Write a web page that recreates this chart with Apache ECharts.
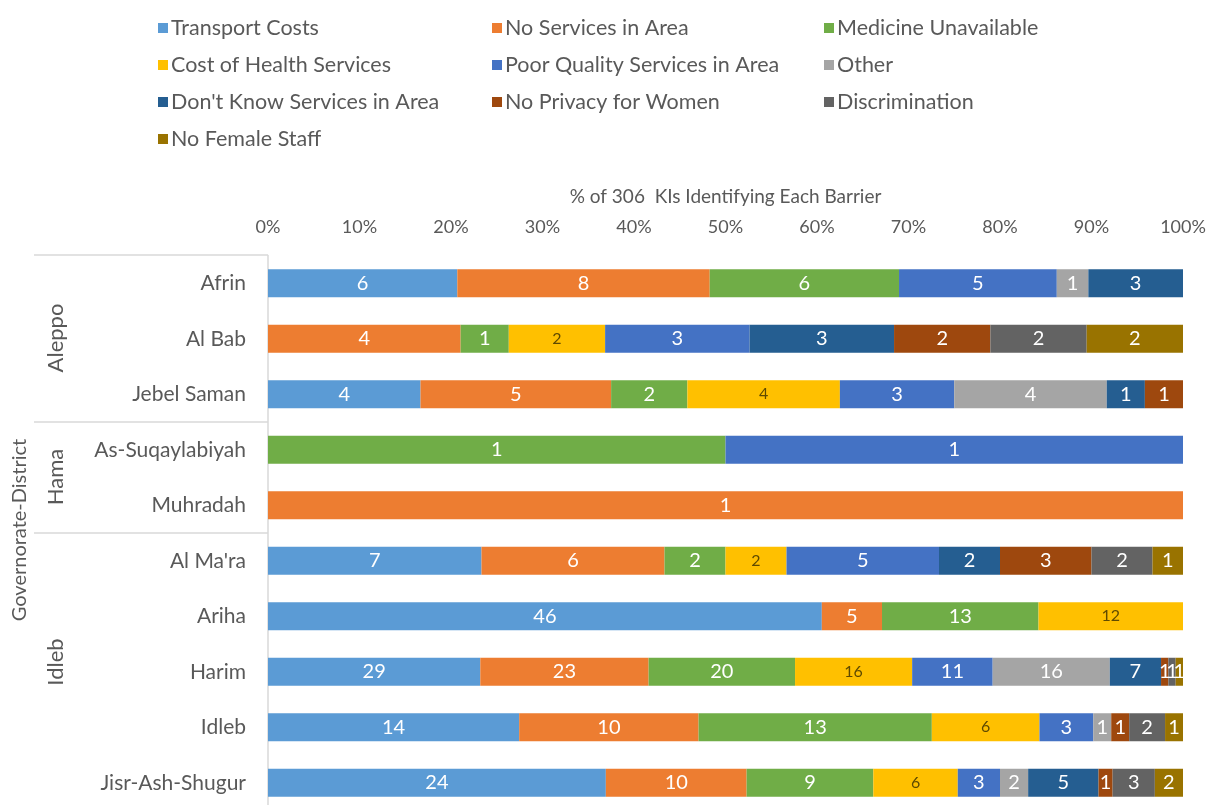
<!DOCTYPE html>
<html lang="en" style="height: 100%">
<head>
    <meta charset="UTF-8">
    <script src="https://cdn.jsdelivr.net/npm/echarts@6/dist/echarts.min.js"></script>
    <title>Barriers to health services</title>
</head>
<body style="height: 100%; margin: 0; background: #fff">
<div id="main" style="width: 1211px; height: 805px"></div>
<script>
    // districts, top to bottom
    var districts = ['Afrin', 'Al Bab', 'Jebel Saman', 'As-Suqaylabiyah', 'Muhradah',
        "Al Ma'ra", 'Ariha', 'Harim', 'Idleb', 'Jisr-Ash-Shugur'];

    var barriers = ['Transport Costs', 'No Services in Area', 'Medicine Unavailable',
        'Cost of Health Services', 'Poor Quality Services in Area', 'Other',
        "Don't Know Services in Area", 'No Privacy for Women', 'Discrimination', 'No Female Staff'];

    var colors = ['#5B9BD5', '#ED7D31', '#70AD47', '#FFC000', '#4472C4', '#A5A5A5',
        '#255E91', '#9E480E', '#636363', '#997300'];

    // counts of KIs per barrier, one array per barrier, same order as districts
    var transportCosts = [6, 0, 4, 0, 0, 7, 46, 29, 14, 24];
    var noServices = [8, 4, 5, 0, 1, 6, 5, 23, 10, 10];
    var medicineUnavailable = [6, 1, 2, 1, 0, 2, 13, 20, 13, 9];
    var costHealth = [0, 2, 4, 0, 0, 2, 12, 16, 6, 6];
    var poorQuality = [5, 3, 3, 1, 0, 5, 0, 11, 3, 3];
    var other = [1, 0, 4, 0, 0, 0, 0, 16, 1, 2];
    var dontKnow = [3, 3, 1, 0, 0, 2, 0, 7, 0, 5];
    var noPrivacy = [0, 2, 1, 0, 0, 3, 0, 1, 1, 1];
    var discrimination = [0, 2, 0, 0, 0, 2, 0, 1, 2, 3];
    var noFemaleStaff = [0, 2, 0, 0, 0, 1, 0, 1, 1, 2];

    var counts = [transportCosts, noServices, medicineUnavailable, costHealth, poorQuality,
        other, dontKnow, noPrivacy, discrimination, noFemaleStaff];

    var xTicks = [0, 10, 20, 30, 40, 50, 60, 70, 80, 90, 100];

    // totals per district, for the 100% stack
    var totals = districts.map(function (d, i) {
        var s = 0;
        counts.forEach(function (arr) { s += arr[i]; });
        return s;
    });

    var font = 'Lato, "Open Sans", sans-serif';
    var grey = '#595959';

    var series = barriers.map(function (name, k) {
        return {
            name: name,
            type: 'bar',
            stack: 'all',
            barWidth: 28,
            itemStyle: {color: colors[k]},
            label: {
                show: true,
                position: 'inside',
                fontFamily: font,
                fontSize: k === 3 ? 16 : 20,
                color: k === 3 ? '#5f4a00' : '#ffffff',
                formatter: function (p) { return p.data.count; }
            },
            data: counts[k].map(function (c, i) {
                if (!c) return {value: null, count: ''};
                return {value: c / totals[i] * 100, count: c};
            })
        };
    });

    function legendCol(left, names) {
        return {
            orient: 'vertical',
            left: left,
            top: 12,
            icon: 'rect',
            itemWidth: 10,
            itemHeight: 10,
            itemGap: 15,
            selectedMode: false,
            textStyle: {fontFamily: font, fontSize: 21.5, color: grey, lineHeight: 22, padding: [0, 0, 0, -2]},
            data: names
        };
    }

    var sepStyle = {stroke: '#d9d9d9', lineWidth: 1.5};

    function groupText(x, y, text, size) {
        return {
            type: 'text',
            x: x,
            y: y,
            rotation: Math.PI / 2,
            style: {
                text: text,
                fontFamily: font,
                fontSize: size,
                fill: grey,
                align: 'center',
                verticalAlign: 'middle'
            }
        };
    }

    var option = {
        animation: false,
        legend: [
            legendCol(153, [barriers[0], barriers[3], barriers[6], barriers[9]]),
            legendCol(487, [barriers[1], barriers[4], barriers[7]]),
            legendCol(819, [barriers[2], barriers[5], barriers[8]])
        ],
        grid: {left: 268, right: 28, top: 255.5, height: 555, outerBoundsMode: 'none'},
        xAxis: {
            type: 'value',
            position: 'top',
            min: 0,
            max: 100,
            interval: 10,
            name: '% of 306  KIs Identifying Each Barrier',
            nameLocation: 'middle',
            nameGap: 49,
            nameTextStyle: {fontFamily: font, fontSize: 19, color: grey},
            axisLine: {show: false},
            axisTick: {show: false},
            splitLine: {show: false},
            axisLabel: {
                fontFamily: font, fontSize: 18, color: grey, margin: 19,
                customValues: xTicks,
                formatter: '{value}%'
            }
        },
        yAxis: {
            type: 'category',
            inverse: true,
            data: districts,
            axisLine: {lineStyle: {color: '#d9d9d9', width: 1.5}},
            axisTick: {show: false},
            axisLabel: {fontFamily: font, fontSize: 21, color: grey, margin: 22}
        },
        graphic: [
            {type: 'line', shape: {x1: 34, y1: 255, x2: 268, y2: 255}, style: sepStyle},
            {type: 'line', shape: {x1: 34, y1: 422, x2: 268, y2: 422}, style: sepStyle},
            {type: 'line', shape: {x1: 34, y1: 533, x2: 268, y2: 533}, style: sepStyle},
            groupText(56, 338, 'Aleppo', 22),
            groupText(56, 477, 'Hama', 22),
            groupText(56, 662, 'Idleb', 22),
            groupText(20, 530, 'Governorate-District', 20)
        ],
        series: series
    };

    var myChart = echarts.init(document.getElementById('main'));
    myChart.setOption(option);
</script>
</body>
</html>
